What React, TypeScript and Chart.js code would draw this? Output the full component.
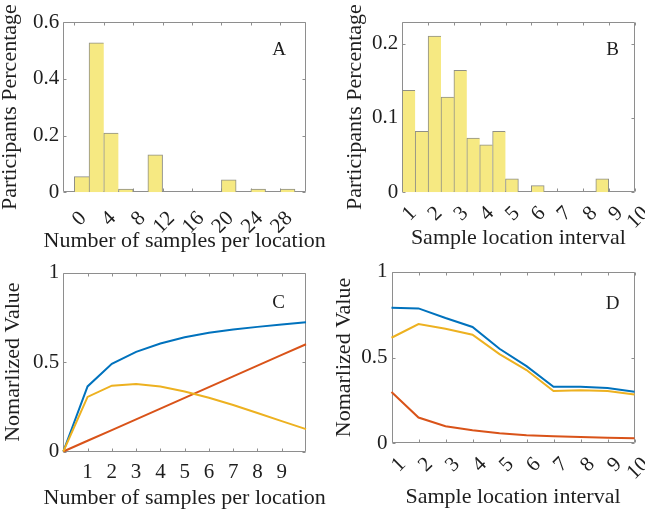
import React, { useEffect, useRef } from 'react';
import { Chart, registerables } from 'chart.js';

Chart.register(...registerables);

// ---------------- Data ----------------
// Panel A: histogram, bins of width 2 (centres)
const A_BIN_CENTERS = [1, 3, 5, 7, 9, 11, 13, 15, 17, 19, 21, 23, 25, 27, 29];
const A_VALUES = [0.055, 0.527, 0.209, 0.011, 0, 0.132, 0, 0, 0, 0, 0.044, 0, 0.011, 0, 0.011];
const A_X_TICKS = [0, 4, 8, 12, 16, 20, 24, 28];
const A_Y_TICKS = [0, 0.2, 0.4, 0.6];

// Panel B: histogram, bins of width 0.5 (centres)
const B_BIN_CENTERS = [1.25, 1.75, 2.25, 2.75, 3.25, 3.75, 4.25, 4.75, 5.25, 5.75, 6.25, 6.75, 7.25, 7.75, 8.25, 8.75, 9.25, 9.75];
const B_VALUES = [0.137, 0.082, 0.21, 0.128, 0.164, 0.073, 0.064, 0.082, 0.018, 0, 0.009, 0, 0, 0, 0, 0.018, 0, 0];
const B_X_TICKS = [1, 2, 3, 4, 5, 6, 7, 8, 9, 10];
const B_Y_TICKS = [0, 0.1, 0.2];

// Panel C: lines vs number of samples per location
const C_X = [0, 1, 2, 3, 4, 5, 6, 7, 8, 9, 10];
const C_BLUE = [0, 0.364, 0.49, 0.557, 0.604, 0.639, 0.664, 0.682, 0.697, 0.71, 0.723];
const C_ORANGE = [0, 0.06, 0.12, 0.18, 0.24, 0.3, 0.36, 0.42, 0.48, 0.54, 0.6];
const C_YELLOW = [0, 0.305, 0.368, 0.378, 0.363, 0.336, 0.301, 0.26, 0.215, 0.17, 0.125];
const C_X_TICKS = [1, 2, 3, 4, 5, 6, 7, 8, 9];
const C_Y_TICKS = [0, 0.5, 1];

// Panel D: lines vs sample location interval
const D_X = [1, 2, 3, 4, 5, 6, 7, 8, 9, 10];
const D_BLUE = [0.79, 0.786, 0.73, 0.678, 0.551, 0.45, 0.33, 0.33, 0.322, 0.3];
const D_YELLOW = [0.615, 0.695, 0.668, 0.633, 0.52, 0.427, 0.305, 0.309, 0.305, 0.285];
const D_ORANGE = [0.299, 0.15, 0.099, 0.076, 0.058, 0.047, 0.041, 0.037, 0.033, 0.029];
const D_X_TICKS = [1, 2, 3, 4, 5, 6, 7, 8, 9, 10];
const D_Y_TICKS = [0, 0.5, 1];

// ---------------- Styles ----------------
const FONT = '"Liberation Serif", "Times New Roman", serif';
const TEXT = '#1e1e1e';
const FRAME = '#8e8e8e';
const BAR_FILL = '#f6e982';
const BAR_EDGE = '#8f8f86';
const BLUE = '#0072BD';
const ORANGE = '#D95319';
const YELLOW = '#EDB120';

// ---------------- Plugins ----------------
const frameTicks = {
  id: 'frameTicks',
  beforeDatasetsDraw(chart: any, _args: any, opts: any) {
    const { ctx, chartArea } = chart;
    const L = Math.round(chartArea.left) + 0.5;
    const R = Math.round(chartArea.right) - 0.5;
    const T = Math.round(chartArea.top) + 0.5;
    const B = Math.round(chartArea.bottom) - 0.5;
    const len = opts.tickLength ?? 3;
    ctx.save();
    ctx.strokeStyle = opts.color || FRAME;
    ctx.lineWidth = 1;
    ctx.beginPath();
    ctx.rect(L, T, R - L, B - T);
    const xs = chart.scales.x;
    xs.ticks.forEach((t: any) => {
      const px = Math.round(xs.getPixelForValue(t.value)) + 0.5;
      ctx.moveTo(px, B);
      ctx.lineTo(px, B - len);
      ctx.moveTo(px, T);
      ctx.lineTo(px, T + len);
    });
    const ys = chart.scales.y;
    ys.ticks.forEach((t: any) => {
      const py = Math.round(ys.getPixelForValue(t.value)) + 0.5;
      ctx.moveTo(L, py);
      ctx.lineTo(L + len, py);
      ctx.moveTo(R, py);
      ctx.lineTo(R - len, py);
    });
    ctx.stroke();
    ctx.restore();
  },
};

const axisTitles = {
  id: 'axisTitles',
  afterDraw(chart: any, _args: any, opts: any) {
    const { ctx, chartArea } = chart;
    ctx.save();
    ctx.font = `${opts.size}px ${FONT}`;
    ctx.fillStyle = TEXT;
    ctx.textAlign = 'center';
    ctx.textBaseline = 'alphabetic';
    ctx.fillText(opts.xText, (chartArea.left + chartArea.right) / 2, chartArea.bottom + opts.xDy);
    ctx.translate(chartArea.left - opts.yDx, (chartArea.top + chartArea.bottom) / 2);
    ctx.rotate(-Math.PI / 2);
    ctx.fillText(opts.yText, 0, 0);
    ctx.restore();
  },
};

const panelLetter = {
  id: 'panelLetter',
  afterDraw(chart: any, _args: any, opts: any) {
    const { ctx, chartArea } = chart;
    ctx.save();
    ctx.font = `${opts.size}px ${FONT}`;
    ctx.fillStyle = TEXT;
    ctx.textAlign = 'center';
    ctx.textBaseline = 'alphabetic';
    ctx.fillText(opts.text, chartArea.right - opts.dx, chartArea.top + opts.dy);
    ctx.restore();
  },
};

// ---------------- Config builder ----------------
type PanelSpec = {
  key: string;
  left: number; top: number; width: number; height: number;
  padTop: number; padRight: number; yAxisW: number; xAxisH: number;
  xMin: number; xMax: number; yMax: number;
  xTicks: number[]; yTicks: number[];
  rot: number; xTickPad: number; labelOffset: number;
  xTitle: string; yTitle: string; xDy: number; yDx: number;
  letter: string; letterDx: number; letterDy: number;
  type: 'bar' | 'line';
  datasets: any[];
};

function buildConfig(p: PanelSpec): any {
  return {
    type: p.type,
    data: { datasets: p.datasets },
    options: {
      responsive: false,
      animation: false,
      devicePixelRatio: 1,
      layout: { padding: { left: 0, top: p.padTop, right: p.padRight, bottom: 0 } },
      plugins: {
        legend: { display: false },
        tooltip: { enabled: false },
        frameTicks: { color: FRAME, tickLength: 3 },
        axisTitles: { xText: p.xTitle, yText: p.yTitle, xDy: p.xDy, yDx: p.yDx, size: 22 },
        panelLetter: { text: p.letter, dx: p.letterDx, dy: p.letterDy, size: 19 },
      },
      scales: {
        x: {
          type: 'linear',
          min: p.xMin,
          max: p.xMax,
          offset: false,
          grid: { display: false, drawTicks: false, offset: false },
          border: { display: false },
          afterBuildTicks: (s: any) => {
            s.ticks = p.xTicks.map((v) => ({ value: v }));
          },
          afterFit: (s: any) => {
            s.height = p.xAxisH;
            s.paddingLeft = 0;
            s.paddingRight = 0;
          },
          ticks: {
            autoSkip: false,
            minRotation: p.rot,
            maxRotation: p.rot,
            padding: p.xTickPad,
            labelOffset: p.labelOffset,
            color: TEXT,
            font: { family: FONT, size: 21 },
            callback: (v: any) => String(v),
          },
        },
        y: {
          type: 'linear',
          min: 0,
          max: p.yMax,
          grid: { display: false, drawTicks: false },
          border: { display: false },
          afterBuildTicks: (s: any) => {
            s.ticks = p.yTicks.map((v) => ({ value: v }));
          },
          afterFit: (s: any) => {
            s.width = p.yAxisW;
            s.paddingTop = 0;
            s.paddingBottom = 0;
          },
          ticks: {
            padding: 4,
            color: TEXT,
            font: { family: FONT, size: 21 },
            callback: (v: any) => String(v),
          },
        },
      },
    },
    plugins: [frameTicks, axisTitles, panelLetter],
  };
}

function histDataset(centers: number[], values: number[]) {
  return {
    data: centers.map((c, i) => ({ x: c, y: values[i] })),
    backgroundColor: BAR_FILL,
    borderColor: BAR_EDGE,
    borderSkipped: false,
    borderWidth: (ctx: any) => {
      const i = ctx.dataIndex;
      const next = i + 1 < values.length ? values[i + 1] : 0;
      return { top: 1, left: 1, bottom: 0, right: next > 0 ? 0 : 1 };
    },
    barPercentage: 1,
    categoryPercentage: 1,
  };
}

function lineDataset(xs: number[], ys: number[], color: string) {
  return {
    data: xs.map((x, i) => ({ x, y: ys[i] })),
    borderColor: color,
    backgroundColor: color,
    borderWidth: 2,
    pointRadius: 0,
    tension: 0,
    clip: false,
  };
}

const PANELS: PanelSpec[] = [
  {
    key: 'A', left: 0, top: 0, width: 340, height: 256,
    padTop: 22, padRight: 34, yAxisW: 63.3, xAxisH: 63.7,
    xMin: -1.5, xMax: 31.5, yMax: 0.6, xTicks: A_X_TICKS, yTicks: A_Y_TICKS,
    rot: 45, xTickPad: 14, labelOffset: 9,
    xTitle: 'Number of samples per location', yTitle: 'Participants Percentage', xDy: 55, yDx: 47,
    letter: 'A', letterDx: 27, letterDy: 33,
    type: 'bar', datasets: [histDataset(A_BIN_CENTERS, A_VALUES)],
  },
  {
    key: 'B', left: 330, top: 0, width: 315, height: 256,
    padTop: 22, padRight: 10.5, yAxisW: 72.3, xAxisH: 63.7,
    xMin: 1, xMax: 10, yMax: 0.229, xTicks: B_X_TICKS, yTicks: B_Y_TICKS,
    rot: 45, xTickPad: 9, labelOffset: 11,
    xTitle: 'Sample location interval', yTitle: 'Participants Percentage', xDy: 52, yDx: 41,
    letter: 'B', letterDx: 22, letterDy: 33,
    type: 'bar', datasets: [histDataset(B_BIN_CENTERS, B_VALUES)],
  },
  {
    key: 'C', left: 0, top: 256, width: 340, height: 256,
    padTop: 16.7, padRight: 34, yAxisW: 63.3, xAxisH: 60.5,
    xMin: 0, xMax: 10, yMax: 1, xTicks: C_X_TICKS, yTicks: C_Y_TICKS,
    rot: 0, xTickPad: 8, labelOffset: 0,
    xTitle: 'Number of samples per location', yTitle: 'Nomarlized Value', xDy: 52, yDx: 44,
    letter: 'C', letterDx: 27.5, letterDy: 35,
    type: 'line',
    datasets: [
      lineDataset(C_X, C_YELLOW, YELLOW),
      lineDataset(C_X, C_ORANGE, ORANGE),
      lineDataset(C_X, C_BLUE, BLUE),
    ],
  },
  {
    key: 'D', left: 330, top: 256, width: 315, height: 256,
    padTop: 15.7, padRight: 10.5, yAxisW: 61.5, xAxisH: 68.7,
    xMin: 1, xMax: 10, yMax: 1, xTicks: D_X_TICKS, yTicks: D_Y_TICKS,
    rot: 45, xTickPad: 9, labelOffset: 11,
    xTitle: 'Sample location interval', yTitle: 'Nomarlized Value', xDy: 60, yDx: 41.5,
    letter: 'D', letterDx: 22, letterDy: 37,
    type: 'line',
    datasets: [
      lineDataset(D_X, D_YELLOW, YELLOW),
      lineDataset(D_X, D_ORANGE, ORANGE),
      lineDataset(D_X, D_BLUE, BLUE),
    ],
  },
];

function Panel({ spec }: { spec: PanelSpec }) {
  const ref = useRef<HTMLCanvasElement | null>(null);
  useEffect(() => {
    if (!ref.current) return;
    const chart = new Chart(ref.current, buildConfig(spec));
    return () => chart.destroy();
  }, [spec]);
  return (
    <canvas
      ref={ref}
      width={spec.width}
      height={spec.height}
      style={{
        position: 'absolute',
        left: spec.left,
        top: spec.top,
        width: spec.width,
        height: spec.height,
      }}
    />
  );
}

export default function App() {
  return (
    <div
      style={{
        position: 'fixed',
        left: 0,
        top: 0,
        width: 645,
        height: 512,
        background: '#ffffff',
        overflow: 'hidden',
      }}
    >
      {PANELS.map((p) => (
        <Panel key={p.key} spec={p} />
      ))}
    </div>
  );
}
